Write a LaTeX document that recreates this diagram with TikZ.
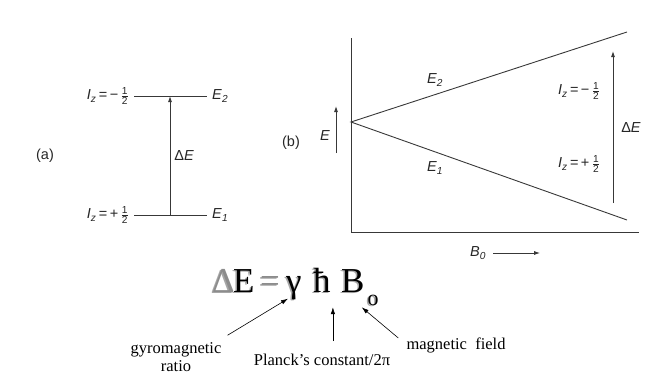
\documentclass[tikz,border=0pt]{standalone}
\usepackage{amsmath}
\usepackage{fontspec}
\setmainfont{Liberation Serif}
\newfontfamily\figfont{Liberation Sans}
\usetikzlibrary{arrows.meta}
\newcommand{\half}{\genfrac{}{}{0.4pt}{}{\text{\figfont\upshape 1}}{\text{\figfont\upshape 2}}}
\newcommand{\spin}[1]{\textit{I}\textsubscript{\textit{z}}\,=\,#1\,$\half$}
\begin{document}
\begin{tikzpicture}[x = 1pt, y = -1pt,
  lvl/.style = {line width = 0.9pt, draw = black!78},
  arr/.style = {lvl, -{Latex[length = 6pt, width = 4pt]}},
  lab/.style = {font = \figfont\fontsize{14.5}{16}\selectfont, text = black!85, inner sep = 1pt},
  note/.style = {font = \fontsize{16.5}{18}\selectfont, inner sep = 1pt},
  ptr/.style = {line width = 0.6pt, -{Latex[length = 7pt, width = 4.5pt]}},
  eqs/.style = {font = \fontsize{35}{40}\selectfont, anchor = base west, inner sep = 0pt}]
\useasboundingbox (0,0) rectangle (666,380);

% (a) the two levels
\node[lab] (tag-a) at (45,156) {(a)};
\foreach \lv/\y/\s in {2/96/−, 1/215/+}
{
  \coordinate (a\lv-l) at (134,\y);
  \coordinate (a\lv-r) at (207,\y);
  \draw[lvl] (a\lv-l) -- (a\lv-r);
  \node[lab, anchor = east, xshift = -4pt] (a\lv-spin) at (a\lv-l) {\spin{\s}};
  \node[lab, anchor = west, xshift = 4pt] (a\lv-name) at (a\lv-r) {\textit{E}\textsubscript{\textit{\lv}}};
}
\coordinate (a-foot) at (170,215);
\coordinate (a-head) at (170,96);
\draw[arr] (a-foot) -- node[lab, right = 3pt] (a-gap) {Δ\textit{E}} (a-head);

% (b) splitting in the field
\node[lab] (tag-b) at (291,143) {(b)};
\coordinate (b-top) at (351,38);
\coordinate (b-org) at (351,232);
\coordinate (b-end) at (639,232);
\coordinate (b-split) at (351,122);
\coordinate (b-hi) at (627,32);
\coordinate (b-lo) at (627,220);
\draw[lvl] (b-top) -- (b-org) -- (b-end);
\draw[lvl] (b-hi) -- (b-split) -- (b-lo);
\node[lab] (b-e2) at (435,80) {\textit{E}\textsubscript{\textit{2}}};
\node[lab] (b-e1) at (435,168) {\textit{E}\textsubscript{\textit{1}}};
\coordinate (b-efoot) at (336,153);
\coordinate (b-ehead) at (336,106);
\draw[arr] (b-efoot) -- (b-ehead);
\node[lab] (b-elab) at (325,136) {\textit{E}};
\coordinate (b-gfoot) at (613,203);
\coordinate (b-ghead) at (613,51);
\draw[arr] (b-gfoot) -- (b-ghead);
\node[lab] (b-gap) at (631,128) {Δ\textit{E}};
\node[lab] (b-s2) at (579,91) {\spin{−}};
\node[lab] (b-s1) at (579,164) {\spin{+}};
\node[lab] (b-field) at (478,253) {\textit{B}\textsubscript{\textit{0}}};
\draw[arr] ([xshift = 6pt]b-field.east) -- ++(47,0);

% the equation, with its grey shadow
\foreach \x/\g/\c/\n in {212/Δ/black!45/delta, 233/E/black/en, 260/=/black!45/sign, 286/γ/black/gam, 313/ħ/black/hb, 341/B/black/bf}
{
  \node[eqs, text = black!35] at (\x-1.5,293.5) {\g};
  \node[eqs, text = \c] (eq-\n) at (\x,292) {\g};
}
\node[eqs, font = \fontsize{22}{24}\selectfont, text = black!35] at (366,306.5) {o};
\node[eqs, font = \fontsize{22}{24}\selectfont] (eq-o) at (367.5,305) {o};

% what each symbol means
\node[note, align = center] (gyro) at (176,357) {gyromagnetic\\ratio};
\node[note] (planck) at (322,360) {Planck’s constant/2π};
\node[note] (field) at (456,345) {magnetic\ \ field};
\coordinate (gam-tip) at ([xshift = 2pt, yshift = 1pt]eq-gam.south west);
\coordinate (hb-tip) at ([xshift = 2pt, yshift = -15pt]eq-hb.south east);
\coordinate (bf-tip) at ([xshift = -3pt, yshift = -15pt]eq-bf.south east);
\coordinate (hb-tail) at (planck.north -| hb-tip);
\draw[ptr] ([xshift = 5pt, yshift = 6pt]gyro.north east) -- (gam-tip);
\draw[ptr] ([yshift = 12pt]hb-tail) -- (hb-tip);
\draw[ptr] ([xshift = -7pt, yshift = 7pt]field.west) -- (bf-tip);
\end{tikzpicture}
\end{document}
